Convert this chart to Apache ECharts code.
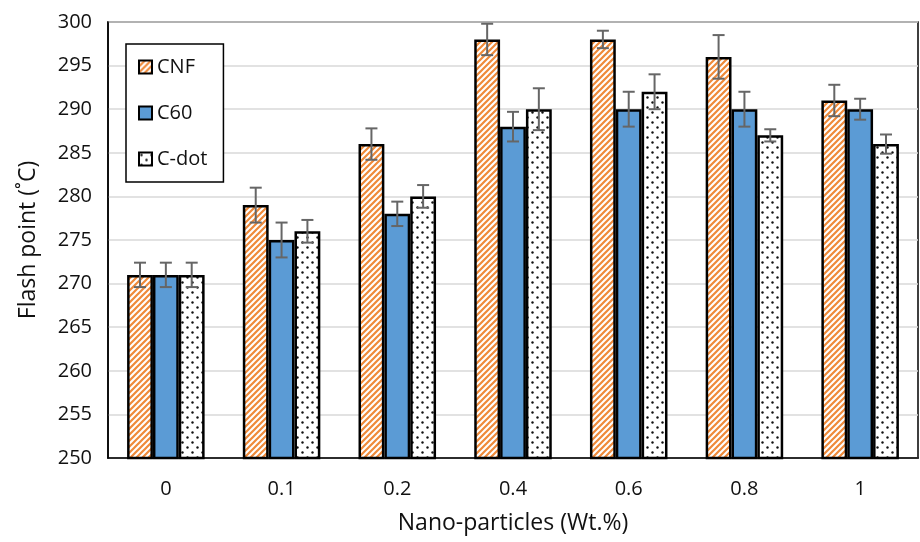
<!DOCTYPE html>
<html>
<head>
<meta charset="utf-8">
<script src="https://cdn.jsdelivr.net/npm/echarts@6/dist/echarts.min.js"></script>
<style>
  html, body { margin: 0; padding: 0; background: #fff; }
  #chart { width: 920px; height: 542px; }
</style>
</head>
<body>
<div id="chart"></div>
<script>
// data
var categories = ['0', '0.1', '0.2', '0.4', '0.6', '0.8', '1']
var cnf = [271, 279, 286, 298, 298, 296, 291]
var c60 = [271, 275, 278, 288, 290, 290, 290]
var cdot = [271, 276, 280, 290, 292, 287, 286]
// error bar half-widths
var cnfErr = [1.4, 2, 1.8, 1.8, 1, 2.5, 1.8]
var c60Err = [1.4, 2, 1.4, 1.7, 2, 2, 1.2]
var cdotErr = [1.4, 1.3, 1.3, 2.4, 2, 0.7, 1.1]

var font = '"Open Sans", sans-serif'
var catGap = 0.33

function stripes() {
  var c = document.createElement('canvas')
  c.width = 6; c.height = 6
  var g = c.getContext('2d')
  g.fillStyle = '#fff'
  g.fillRect(0, 0, 6, 6)
  g.strokeStyle = '#ef8a3a'
  g.lineWidth = 2.2
  g.beginPath()
  g.moveTo(-1, 7); g.lineTo(7, -1)
  g.moveTo(-1, 1); g.lineTo(1, -1)
  g.moveTo(5, 7); g.lineTo(7, 5)
  g.stroke()
  return c
}

function dots() {
  var c = document.createElement('canvas')
  c.width = 10; c.height = 10
  var g = c.getContext('2d')
  g.fillStyle = '#fff'
  g.fillRect(0, 0, 10, 10)
  g.fillStyle = '#111'
  g.beginPath(); g.arc(2.5, 2.5, 1.2, 0, Math.PI * 2); g.fill()
  g.beginPath(); g.arc(7.5, 7.5, 1.2, 0, Math.PI * 2); g.fill()
  return c
}

var fills = [
  { image: stripes(), repeat: 'repeat' },
  '#5b9bd5',
  { image: dots(), repeat: 'repeat' }
]

function barSeries(name, data, idx) {
  return {
    name: name,
    type: 'bar',
    data: data,
    barGap: '0%',
    barCategoryGap: (catGap * 100) + '%',
    itemStyle: { color: fills[idx], borderColor: '#000', borderWidth: 2.5 },
    z: 2
  }
}

function errSeries(vals, errs, idx) {
  var pts = vals.map(function (v, i) { return [i, v - errs[i], v + errs[i]] })
  return {
    type: 'custom',
    data: pts,
    z: 5,
    silent: true,
    renderItem: function (params, api) {
      var band = api.size([1, 0])[0]
      var bw = band * (1 - catGap) / 3
      var lo = api.coord([api.value(0), api.value(1)])
      var hi = api.coord([api.value(0), api.value(2)])
      var x = lo[0] + (idx - 1) * bw
      var cap = 6
      var st = { stroke: '#666', lineWidth: 2 }
      return {
        type: 'group',
        children: [
          { type: 'line', shape: { x1: x, y1: lo[1], x2: x, y2: hi[1] }, style: st },
          { type: 'line', shape: { x1: x - cap, y1: lo[1], x2: x + cap, y2: lo[1] }, style: st },
          { type: 'line', shape: { x1: x - cap, y1: hi[1], x2: x + cap, y2: hi[1] }, style: st }
        ]
      }
    }
  }
}

var chart = echarts.init(document.getElementById('chart'))
chart.setOption({
  animation: false,
  textStyle: { fontFamily: font },
  grid: {
    left: 108, right: 2, top: 22, bottom: 84,
    show: true, borderColor: '#000', borderWidth: 1.5
  },
  legend: {
    orient: 'vertical',
    left: 126, top: 44,
    padding: [11, 16, 11, 12],
    itemGap: 22,
    itemWidth: 13, itemHeight: 13,
    backgroundColor: '#fff',
    borderColor: '#000', borderWidth: 1.5,
    icon: 'rect',
    itemStyle: { borderColor: '#000', borderWidth: 2 },
    textStyle: { fontSize: 20, lineHeight: 24, color: '#111', fontFamily: font },
    data: ['CNF', 'C60', 'C-dot']
  },
  xAxis: {
    type: 'category',
    data: categories,
    name: 'Nano-particles (Wt.%)',
    nameLocation: 'middle',
    nameGap: 54,
    nameTextStyle: { fontSize: 23, color: '#111' },
    axisLine: { lineStyle: { color: '#000', width: 1.5 } },
    axisTick: { show: false },
    axisLabel: { fontSize: 20, color: '#111', margin: 21 }
  },
  yAxis: {
    type: 'value',
    min: 250, max: 300, interval: 5,
    name: 'Flash point (˚C)',
    nameLocation: 'middle',
    nameGap: 68,
    nameTextStyle: { fontSize: 23, color: '#111' },
    axisLine: { show: true, lineStyle: { color: '#000', width: 1.5 } },
    axisLabel: { fontSize: 20, color: '#111', margin: 16 },
    splitLine: { lineStyle: { color: '#d9d9d9', width: 1.5 } }
  },
  series: [
    barSeries('CNF', cnf, 0),
    barSeries('C60', c60, 1),
    barSeries('C-dot', cdot, 2),
    errSeries(cnf, cnfErr, 0),
    errSeries(c60, c60Err, 1),
    errSeries(cdot, cdotErr, 2)
  ]
})
</script>
</body>
</html>
